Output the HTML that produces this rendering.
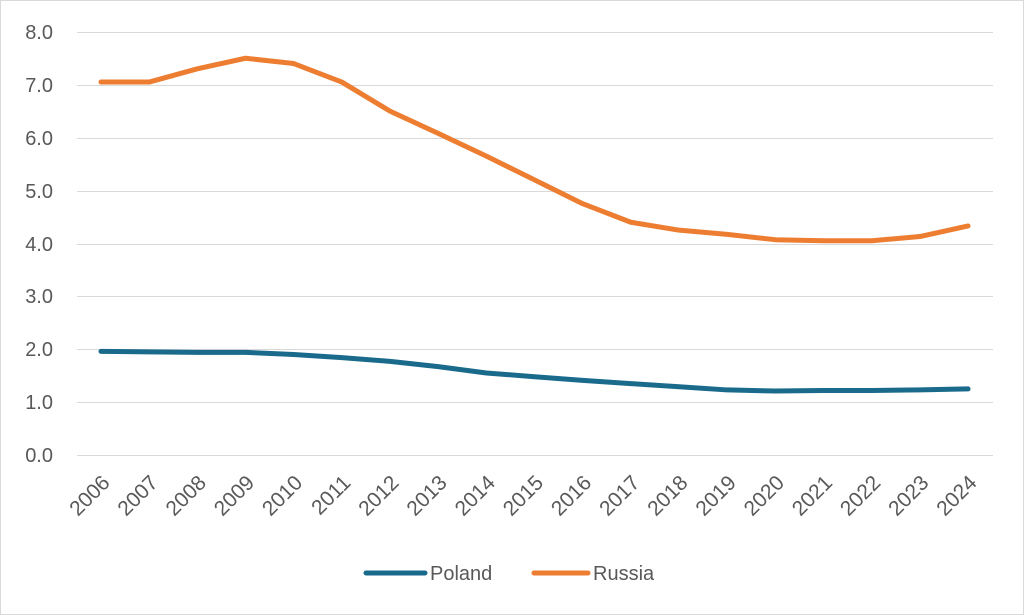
<!DOCTYPE html>
<html><head><style>
html,body{margin:0;padding:0;background:#fff;}
svg{display:block;font-family:"Liberation Sans",sans-serif;}
</style></head><body>
<svg width="1024" height="615" viewBox="0 0 1024 615">
<rect x="0.5" y="0.5" width="1023" height="614" fill="#fff" stroke="#d9d9d9"/>
<g stroke="#d9d9d9" stroke-width="1">
<line x1="77" x2="993" y1="32.5" y2="32.5"/>
<line x1="77" x2="993" y1="85.5" y2="85.5"/>
<line x1="77" x2="993" y1="138.5" y2="138.5"/>
<line x1="77" x2="993" y1="191.5" y2="191.5"/>
<line x1="77" x2="993" y1="244.5" y2="244.5"/>
<line x1="77" x2="993" y1="296.5" y2="296.5"/>
<line x1="77" x2="993" y1="349.5" y2="349.5"/>
<line x1="77" x2="993" y1="402.5" y2="402.5"/>
<line x1="77" x2="993" y1="455.5" y2="455.5"/>
</g>
<g fill="#595959" font-size="20" text-anchor="end">
<text x="53" y="39">8.0</text>
<text x="53" y="92">7.0</text>
<text x="53" y="145">6.0</text>
<text x="53" y="198">5.0</text>
<text x="53" y="251">4.0</text>
<text x="53" y="303">3.0</text>
<text x="53" y="356">2.0</text>
<text x="53" y="409">1.0</text>
<text x="53" y="462">0.0</text>
</g>
<g fill="#595959" font-size="21" text-anchor="end" id="xl"></g>
<polyline fill="none" stroke="#ed7d31" stroke-width="5" stroke-linejoin="round" stroke-linecap="round" id="ru"/>
<polyline fill="none" stroke="#1a6a8c" stroke-width="5" stroke-linejoin="round" stroke-linecap="round" id="pl"/>
<line x1="366" x2="425" y1="573" y2="573" stroke="#1a6a8c" stroke-width="5" stroke-linecap="round"/>
<text x="430" y="580" fill="#595959" font-size="20">Poland</text>
<line x1="534" x2="588" y1="573" y2="573" stroke="#ed7d31" stroke-width="5" stroke-linecap="round"/>
<text x="593" y="580" fill="#595959" font-size="20">Russia</text>
</svg>
<script>
var ru=[7.05,7.05,7.3,7.5,7.4,7.05,6.5,6.08,5.65,5.2,4.75,4.4,4.25,4.17,4.07,4.05,4.05,4.13,4.33];
var pl=[1.96,1.95,1.94,1.94,1.9,1.84,1.77,1.67,1.55,1.48,1.41,1.35,1.29,1.23,1.21,1.22,1.22,1.23,1.25];
function X(i){return 101+i*48.17;}function Y(v){return 455-v*52.9;}
document.getElementById('ru').setAttribute('points',ru.map((v,i)=>X(i)+','+Y(v)).join(' '));
document.getElementById('pl').setAttribute('points',pl.map((v,i)=>X(i)+','+Y(v)).join(' '));
var g=document.getElementById('xl'),s='';
for(var i=0;i<19;i++){var x=X(i)+10,y=484;s+='<text x="'+x+'" y="'+y+'" transform="rotate(-45 '+x+' '+y+')">'+(2006+i)+'</text>';}
g.innerHTML=s;
</script>
</body></html>
